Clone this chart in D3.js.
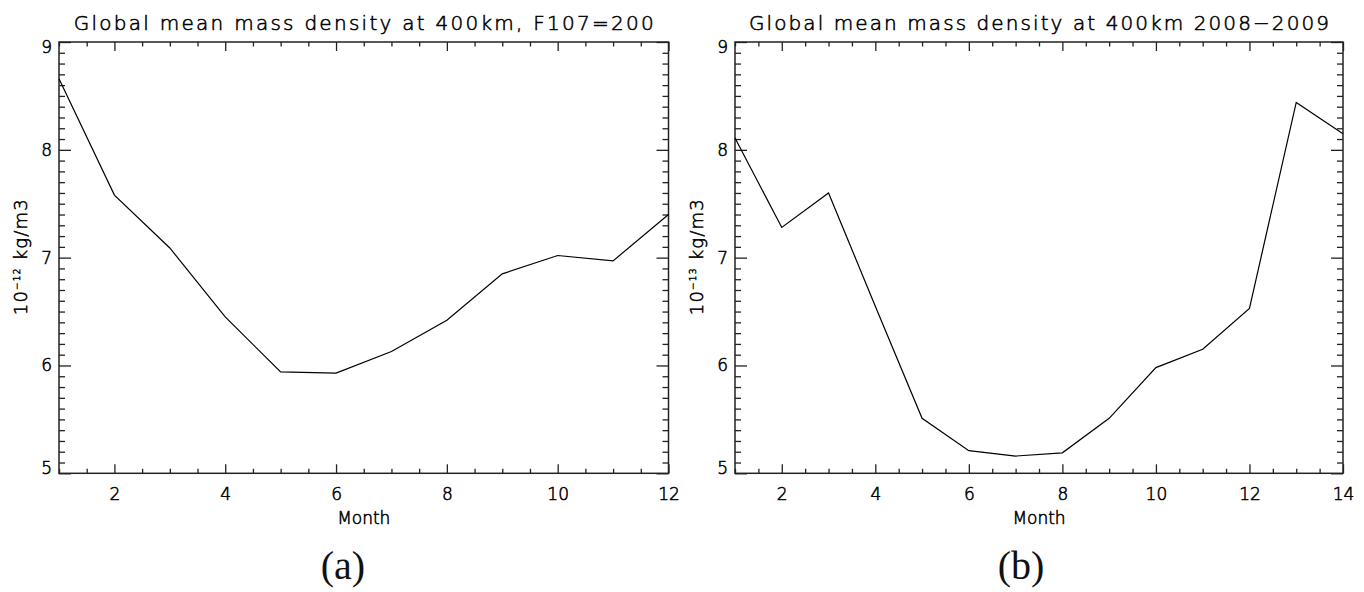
<!DOCTYPE html>
<html>
<head>
<meta charset="utf-8">
<script src="https://cdn.jsdelivr.net/npm/d3@7"></script>
<style>
  html, body { margin: 0; padding: 0; background: #fff; }
  svg { display: block; }
  text.h { font-family: "DejaVu Sans", sans-serif; font-weight: 200; fill: #000; stroke: #000; stroke-width: 0.55px; }
</style>
</head>
<body>
<script>
// ---- data ----
const monthsA = [1, 2, 3, 4, 5, 6, 7, 8, 9, 10, 11, 12];
const densityA = [8.66, 7.58, 7.09, 6.45, 5.94, 5.93, 6.13, 6.42, 6.85, 7.02, 6.97, 7.40];
const monthsB = [1, 2, 3, 4, 5, 6, 7, 8, 9, 10, 11, 12, 13, 14];
const densityB = [8.11, 7.28, 7.60, 6.55, 5.51, 5.21, 5.16, 5.19, 5.51, 5.98, 6.15, 6.53, 8.44, 8.15];
const yTickValues = [5, 6, 7, 8, 9];
const xTicksA = [2, 4, 6, 8, 10, 12];
const xTicksB = [2, 4, 6, 8, 10, 12, 14];
const titles = ["Global mean mass density at 400km, F107=200", "Global mean mass density at 400km 2008\u22122009"];
const yExponents = ["\u221212", "\u221213"];
const xAxisTitle = "Month";
const panelLabels = ["(a)", "(b)"];

const W = 1364, H = 592;
const svg = d3.select("body").append("svg").attr("width", W).attr("height", H);

const panels = [
  { months: monthsA, values: densityA, xTicks: xTicksA, xMax: 12, x0: 59, x1: 668.5, title: titles[0], exp: yExponents[0], label: panelLabels[0], labelX: 343 },
  { months: monthsB, values: densityB, xTicks: xTicksB, xMax: 14, x0: 735, x1: 1343, title: titles[1], exp: yExponents[1], label: panelLabels[1], labelX: 1021 }
];
const yTop = 42, yBot = 473.3;

panels.forEach(p => {
  const x = d3.scaleLinear().domain([1, p.xMax]).range([p.x0, p.x1]);
  const y = d3.scaleLinear().domain([5, 9]).range([yBot, yTop]);
  const g = svg.append("g");

  const minorX = d3.range(2, p.xMax * 2 + 1).map(v => v / 2).filter(v => !p.xTicks.includes(v));
  const minorY = d3.range(50, 91).map(v => v / 10).filter(v => !yTickValues.includes(v));

  const style = sel => {
    sel.select(".domain").remove();
    sel.selectAll("line").attr("stroke", "#222").attr("stroke-width", 1.3);
    sel.selectAll("text").attr("class", "h").attr("fill", null);
  };

  // bottom
  g.append("g").attr("transform", `translate(0,${yBot})`)
    .call(d3.axisBottom(x).tickValues(minorX).tickSize(-4.5).tickFormat("")).call(style);
  const bx = g.append("g").attr("transform", `translate(0,${yBot})`)
    .call(d3.axisBottom(x).tickValues(p.xTicks).tickSize(-9).tickPadding(15).tickFormat(d3.format("d"))).call(style);
  bx.selectAll("text").style("font-size", "17px");

  // top
  g.append("g").attr("transform", `translate(0,${yTop})`)
    .call(d3.axisTop(x).tickValues(minorX).tickSize(-4.5).tickFormat("")).call(style);
  g.append("g").attr("transform", `translate(0,${yTop})`)
    .call(d3.axisTop(x).tickValues(p.xTicks).tickSize(-9).tickFormat("")).call(style);

  // left
  g.append("g").attr("transform", `translate(${p.x0},0)`)
    .call(d3.axisLeft(y).tickValues(minorY).tickSize(-6).tickFormat("")).call(style);
  const ly = g.append("g").attr("transform", `translate(${p.x0},0)`)
    .call(d3.axisLeft(y).tickValues(yTickValues).tickSize(-12).tickPadding(7).tickFormat(d3.format("d"))).call(style);
  ly.selectAll("text").style("font-size", "17px")
    .attr("y", d => d === 9 ? 5.5 : (d === 5 ? -5 : 0));

  // right
  g.append("g").attr("transform", `translate(${p.x1},0)`)
    .call(d3.axisRight(y).tickValues(minorY).tickSize(-6).tickFormat("")).call(style);
  g.append("g").attr("transform", `translate(${p.x1},0)`)
    .call(d3.axisRight(y).tickValues(yTickValues).tickSize(-12).tickFormat("")).call(style);

  // frame
  g.append("rect").attr("x", p.x0).attr("y", yTop).attr("width", p.x1 - p.x0).attr("height", yBot - yTop)
    .attr("fill", "none").attr("stroke", "#222").attr("stroke-width", 1.5);

  // data line
  const line = d3.line().x((d, i) => x(p.months[i])).y(d => y(d));
  g.append("path").datum(p.values).attr("d", line)
    .attr("fill", "none").attr("stroke", "#000").attr("stroke-width", 1.2);

  const cx = (p.x0 + p.x1) / 2;
  // title
  g.append("text").attr("class", "h").attr("x", cx).attr("y", 30).attr("text-anchor", "middle")
    .style("font-size", "20px").attr("textLength", 580).attr("lengthAdjust", "spacing").text(p.title);
  // x axis title
  g.append("text").attr("class", "h").attr("x", cx).attr("y", 524).attr("text-anchor", "middle")
    .style("font-size", "17px").attr("textLength", 53).attr("lengthAdjust", "spacing").text(xAxisTitle);
  // y axis title
  const yt = g.append("text").attr("class", "h")
    .attr("transform", `translate(${p.x0 - 32},${(yTop + yBot) / 2 - 1}) rotate(-90)`)
    .attr("text-anchor", "middle").style("font-size", "18px").style("letter-spacing", "1.2px");
  yt.append("tspan").text("10");
  yt.append("tspan").attr("dy", -7).style("font-size", "9px").text(p.exp);
  yt.append("tspan").attr("dy", 7).text(" kg/m3");
  // panel label
  g.append("text").attr("x", p.labelX).attr("y", 579).attr("text-anchor", "middle")
    .style("font-family", "'Liberation Serif', serif").style("font-size", "40px")
    .attr("fill", "#111").text(p.label);
});
</script>
</body>
</html>
